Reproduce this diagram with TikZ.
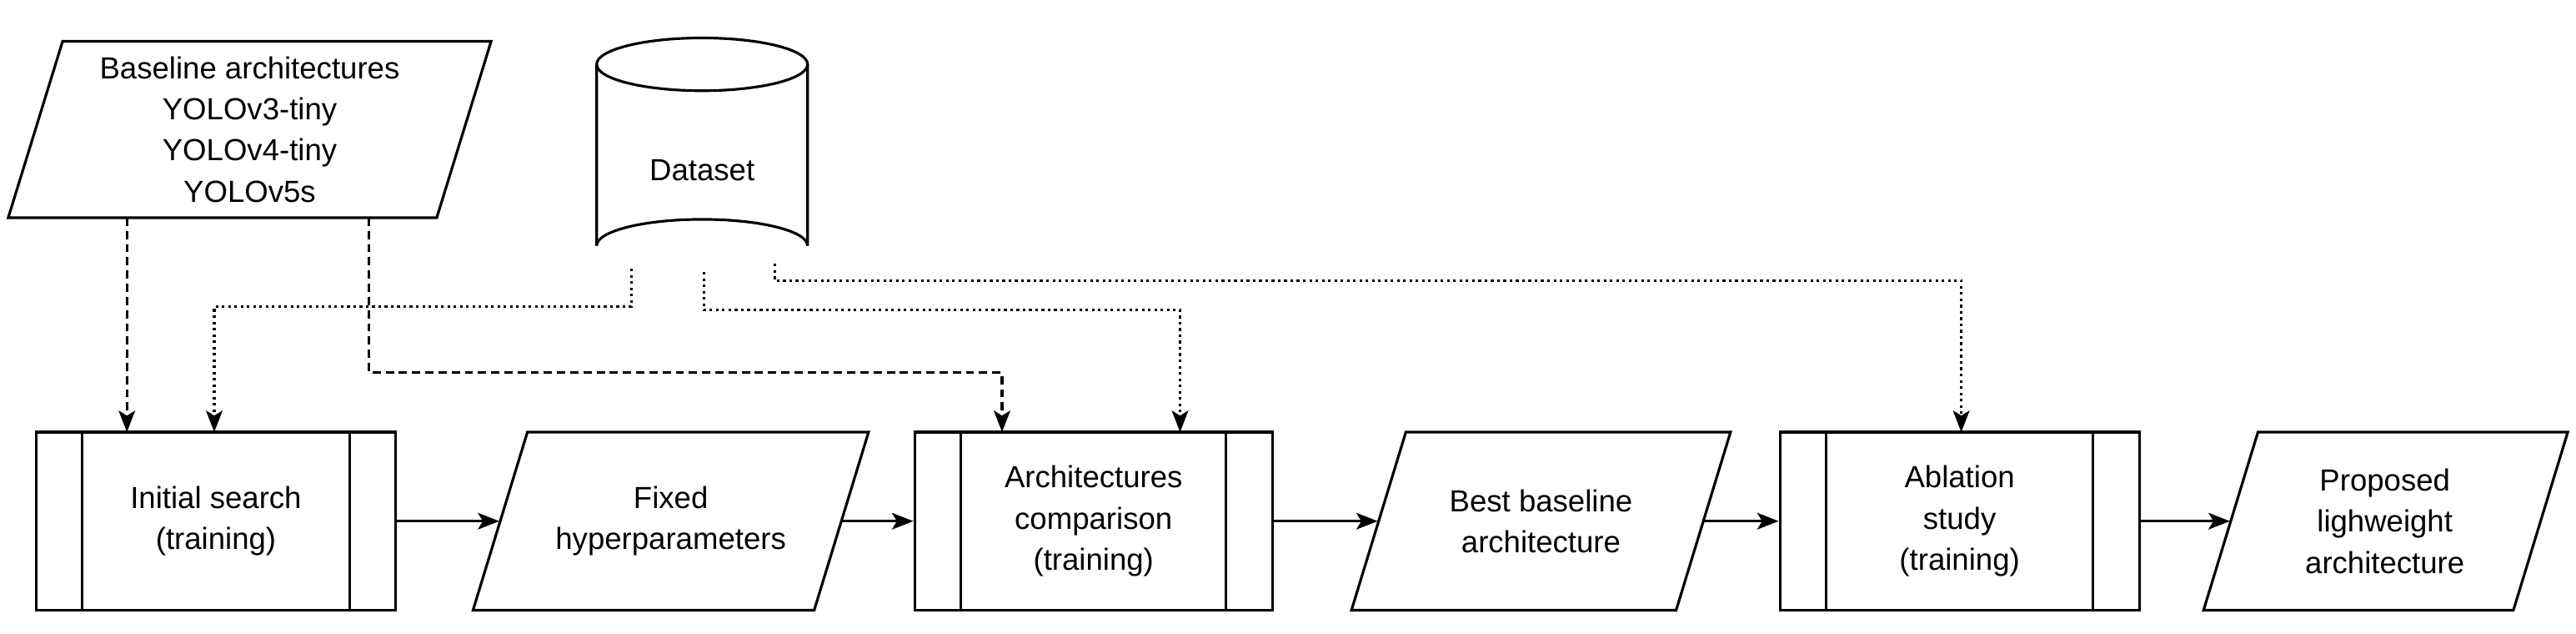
\documentclass[tikz,border=0pt]{standalone}
\usepackage{fontspec}
\setmainfont{Liberation Sans}
\usetikzlibrary{arrows.meta,shapes.geometric}
\begin{document}
\begin{tikzpicture}[x=1pt,y=-1pt,line width=1.6pt,
  txt/.style={align=center,font=\fontsize{18.5}{25}\selectfont},
  arr/.style={-{Stealth[length=13pt,width=10pt,inset=3pt]}},
  dsh/.style={arr,dash pattern=on 5pt off 3pt},
  dot/.style={arr,dash pattern=on 1.6pt off 2.2pt}]
\useasboundingbox (0,0) rectangle (1563,384);
\newcommand{\pbox}[4]{\draw (#1,262) rectangle (#2,370); \draw (#1+28,262) -- (#1+28,370); \draw (#2-28,262) -- (#2-28,370); \node[minimum width=#2-#1, minimum height=108, inner sep=0] (#3) at ({(#1+#2)/2},316) {}; \node[txt] at ({(#1+#2)/2},316) {#4};}
% baseline
\draw (38,25) -- (298,25) -- (265,132) -- (5,132) -- cycle;
\node[txt] (base) at (151.5,78.5) {Baseline architectures\\YOLOv3-tiny\\YOLOv4-tiny\\YOLOv5s};
\coordinate (b1) at (77,132); \coordinate (b2) at (224,132);
% cylinder
\draw (362,39) -- (362,149) arc[start angle=180,end angle=360,x radius=64,y radius=16] -- (490,39);
\draw (426,39) ellipse[x radius=64,y radius=16];
\node[txt] (ds) at (426,103) {Dataset};
\coordinate (d1) at (383,163); \coordinate (d2) at (427,165); \coordinate (d3) at (470,160);
% bottom row
\pbox{22}{240}{s1}{Initial search\\(training)}
\pbox{555}{772}{s2}{Architectures\\comparison\\(training)}
\pbox{1080}{1298}{s3}{Ablation\\study\\(training)}
\draw (320,262) -- (527,262) -- (494,370) -- (287,370) -- cycle;
\node[txt] (p2) at (407,316) {Fixed\\hyperparameters};
\draw (853,262) -- (1050,262) -- (1017,370) -- (820,370) -- cycle;
\node[txt] (p3) at (935,316) {Best baseline\\architecture};
\draw (1370,262) -- (1558,262) -- (1525,370) -- (1337,370) -- cycle;
\node[txt] (p4) at (1447,316) {Proposed\\lighweight\\architecture};
\coordinate (p2l) at (303,316); \coordinate (p2r) at (511,316);
\coordinate (p3l) at (836,316); \coordinate (p3r) at (1034,316);
\coordinate (p4l) at (1353,316);
\draw[arr] (s1.east) -- (p2l);
\draw[arr] (p2r) -- (s2.west);
\draw[arr] (s2.east) -- (p3l);
\draw[arr] (p3r) -- (s3.west);
\draw[arr] (s3.east) -- (p4l);
% dashed
\draw[dsh] (b1) -- (77,262);
\draw[dsh] (b2) -- (224,226) -- (608,226) -- (608,262);
% dotted
\draw[dot] (d1) -- (383,186) -- (130,186) -- (130,262);
\draw[dot] (d2) -- (427,188) -- (716,188) -- (716,262);
\draw[dot] (d3) -- (470,170) -- (1190,170) -- (1190,262);
\end{tikzpicture}
\end{document}
